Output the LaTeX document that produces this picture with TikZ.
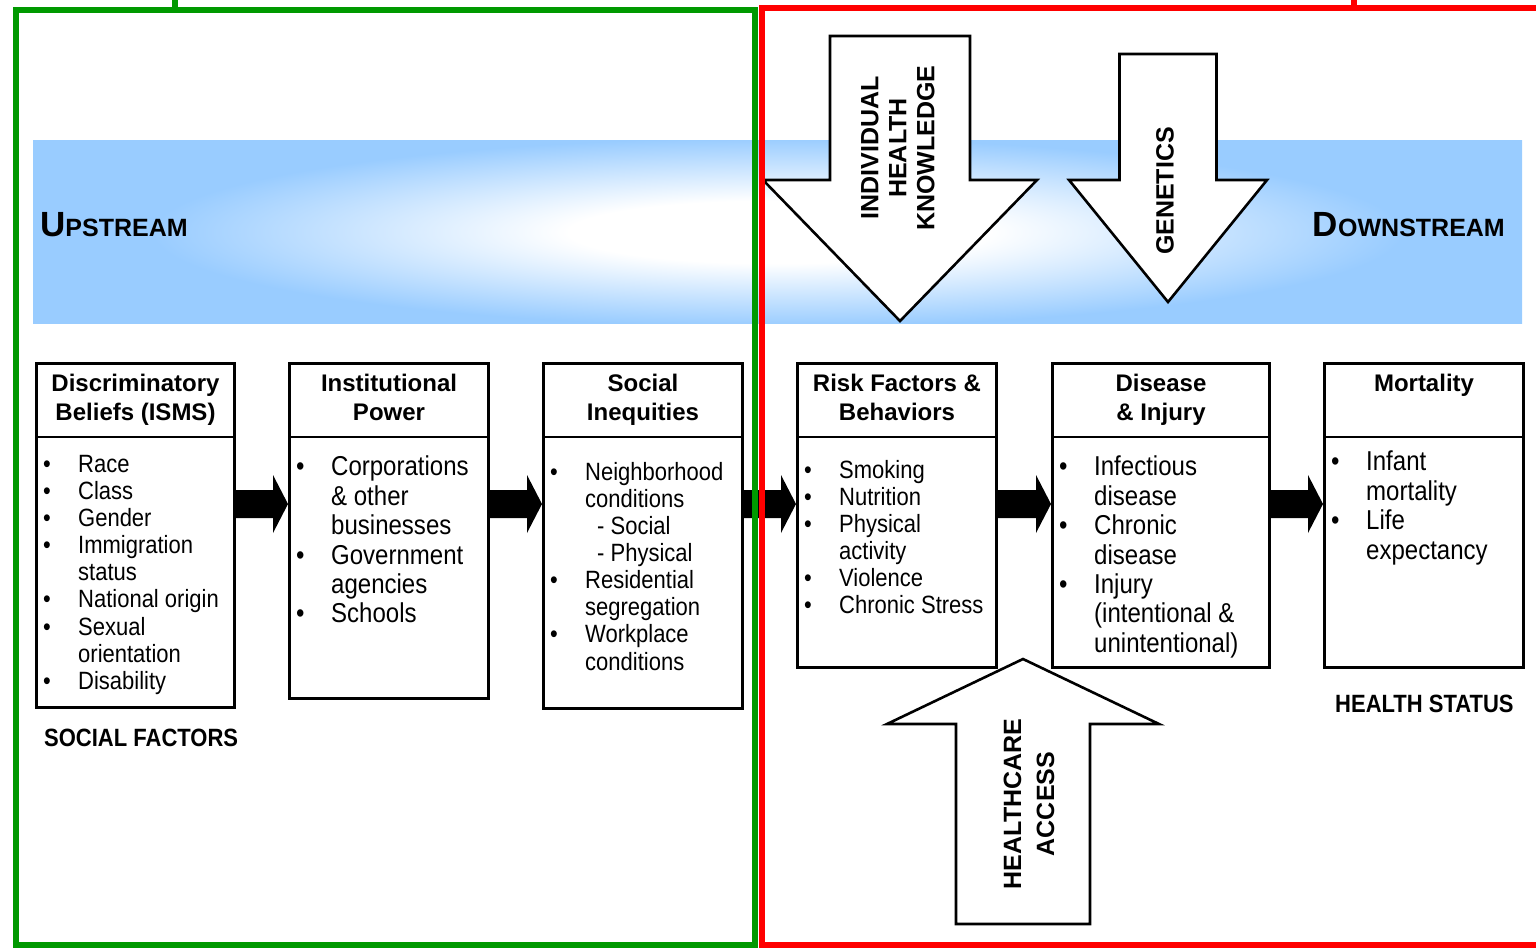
\documentclass[tikz,border=0pt]{standalone}
\usepackage{fontspec}
\setmainfont[FakeStretch=0.88]{Liberation Sans}
\newfontfamily\plainsans{Liberation Sans}
\usetikzlibrary{calc, positioning}
\definecolor{frameGreen}{RGB}{0,153,0}
\definecolor{frameRed}{RGB}{255,0,0}
\definecolor{skyband}{RGB}{153,204,255}
\pgfdeclareradialshading{bandglow}{\pgfpoint{0bp}{0bp}}{color(0bp)=(white); color(7bp)=(white); color(21bp)=(skyband); color(50bp)=(skyband)}
\newlength{\bulletsep}
\setlength{\bulletsep}{35pt}
\newcommand{\bpt}{\makebox[\bulletsep][l]{\textbullet}}
\newcommand{\bcont}{\hspace*{\bulletsep}}
\newcommand{\listsmall}{\fontsize{25}{27.1}\selectfont}
\newcommand{\listbig}{\fontsize{27.3}{29.4}\selectfont}
\tikzset{
    stageBox/.style={rectangle, draw, line width=3pt, anchor=north west, inner sep=0pt},
    stageRule/.style={line width=1.5pt},
    stageTitle/.style={anchor=north, align=center, inner sep=0pt, font=\plainsans\bfseries\fontsize{24}{29}\selectfont},
    stageList/.style={anchor=north west, align=left, inner sep=0pt},
    stageNote/.style={anchor=north west, inner sep=0pt, font=\bfseries\fontsize{25}{27}\selectfont},
    blockArrow/.style={draw, fill=white, line width=2.6pt, line join=miter},
    blockText/.style={rotate=90, align=center, inner sep=0pt, font=\plainsans\bfseries\fontsize{25}{28}\selectfont},
    regionGreen/.style={draw=frameGreen, line width=6pt},
    regionRed/.style={draw=frameRed, line width=6pt},
    streamLabel/.style={inner sep=0pt, font=\plainsans\bfseries},
}
\newcommand{\drawStage}[8]{
    % #1 name, #2 left, #3 width, #4 height, #5 title, #6 list font, #7 list drop, #8 items
    \node[stageBox, minimum width=#3, minimum height=#4] (#1) at (#2, 362) {};
    \draw[stageRule] ([yshift=-75pt]#1.north west) -- ([yshift=-75pt]#1.north east);
    \node[stageTitle] (#1Title) at ([yshift=-12pt]#1.north) {#5};
    \node[stageList, font=#6] (#1List) at ([xshift=8pt, yshift=-#7pt]#1.north west) {#8};
}
\newcommand{\drawFlow}[2]{
    \fill ([yshift=-128pt]#1.north east) -- ([xshift=-15pt, yshift=-128pt]#2.north west)
        -- ([xshift=-15pt, yshift=-113pt]#2.north west) -- ([yshift=-142pt]#2.north west)
        -- ([xshift=-15pt, yshift=-171pt]#2.north west) -- ([xshift=-15pt, yshift=-156pt]#2.north west)
        -- ([yshift=-156pt]#1.north east) -- cycle;
}
\newcommand{\drawBlockArrow}[9]{
    % #1 name, #2 centre x, #3 base y, #4 half shaft, #5 half head, #6 head y, #7 tip y, #8 text at, #9 text
    \draw[blockArrow] (#2-#4, #3) -- (#2+#4, #3) -- (#2+#4, #6) -- (#2+#5, #6) -- (#2, #7)
        -- (#2-#5, #6) -- (#2-#4, #6) -- cycle;
    \node[blockText] (#1) at (#8) {#9};
}

\begin{document}
\begin{tikzpicture}[x=1pt, y=-1pt]

    \useasboundingbox (0,0) rectangle (1536,948);

    % sky band (the two loose points only set the size of the glow)
    \shade[shading=bandglow] (33,140) rectangle (1522,323) (217,120) (1337,344);
    \node[streamLabel, anchor=base west] (upstream) at (40,236) {{\fontsize{35}{35}\selectfont U}{\fontsize{25}{25}\selectfont PSTREAM}};
    \node[streamLabel, anchor=base east] (downstream) at (1505,236) {{\fontsize{35}{35}\selectfont D}{\fontsize{25}{25}\selectfont OWNSTREAM}};

    % stages
    \drawStage{isms}{35}{198pt}{344pt}{Discriminatory\\Beliefs (ISMS)}{\listsmall}{93}
        {\bpt Race\\ \bpt Class\\ \bpt Gender\\ \bpt Immigration\\ \bcont status\\ \bpt National origin\\ \bpt Sexual\\ \bcont orientation\\ \bpt Disability}
    \drawStage{power}{288}{199pt}{335pt}{Institutional\\Power}{\listbig}{94}
        {\bpt Corporations\\ \bcont \& other\\ \bcont businesses\\ \bpt Government\\ \bcont agencies\\ \bpt Schools}
    \drawStage{inequity}{542}{199pt}{345pt}{Social\\Inequities}{\listsmall}{100}
        {\bpt Neighborhood\\ \bcont conditions\\ \bcont\hspace*{12pt}- Social\\ \bcont\hspace*{12pt}- Physical\\ \bpt Residential\\ \bcont segregation\\ \bpt Workplace\\ \bcont conditions}
    \drawStage{risk}{796}{199pt}{304pt}{Risk Factors \&\\Behaviors}{\listsmall}{98}
        {\bpt Smoking\\ \bpt Nutrition\\ \bpt Physical\\ \bcont activity\\ \bpt Violence\\ \bpt Chronic Stress}
    \drawStage{disease}{1051}{217pt}{304pt}{Disease\\\& Injury}{\listbig}{94}
        {\bpt Infectious\\ \bcont disease\\ \bpt Chronic\\ \bcont disease\\ \bpt Injury\\ \bcont (intentional \&\\ \bcont unintentional)}
    \drawStage{mortality}{1323}{199pt}{304pt}{Mortality}{\listbig}{89}
        {\bpt Infant\\ \bcont mortality\\ \bpt Life\\ \bcont expectancy}

    \drawFlow{isms}{power}
    \drawFlow{power}{inequity}
    \drawFlow{inequity}{risk}
    \drawFlow{risk}{disease}
    \drawFlow{disease}{mortality}

    \node[stageNote] (socialNote) at ([xshift=9pt, yshift=-20pt]isms.south west) {SOCIAL FACTORS};
    \node[stageNote] (healthNote) at ([xshift=12pt, yshift=-26pt]mortality.south west) {HEALTH STATUS};

    % outside influences
    \drawBlockArrow{knowledge}{900}{36}{70}{137}{180}{321}{898,148}{INDIVIDUAL\\HEALTH\\KNOWLEDGE}
    \drawBlockArrow{genetics}{1168}{54}{48.5}{99}{180}{302}{1165,191}{GENETICS}
    \drawBlockArrow{careAccess}{1023}{924}{67}{136}{724}{659}{1029,804}{HEALTHCARE\\[5pt]ACCESS}

    % regions
    \draw[regionGreen] (16,10) rectangle (755,945);
    \draw[regionGreen] (175,0) -- (175,10);
    \draw[regionRed] (761.5,7.5) rectangle (1560,944.5);
    \draw[regionRed] (1354,0) -- (1354,7.5);

\end{tikzpicture}
\end{document}
